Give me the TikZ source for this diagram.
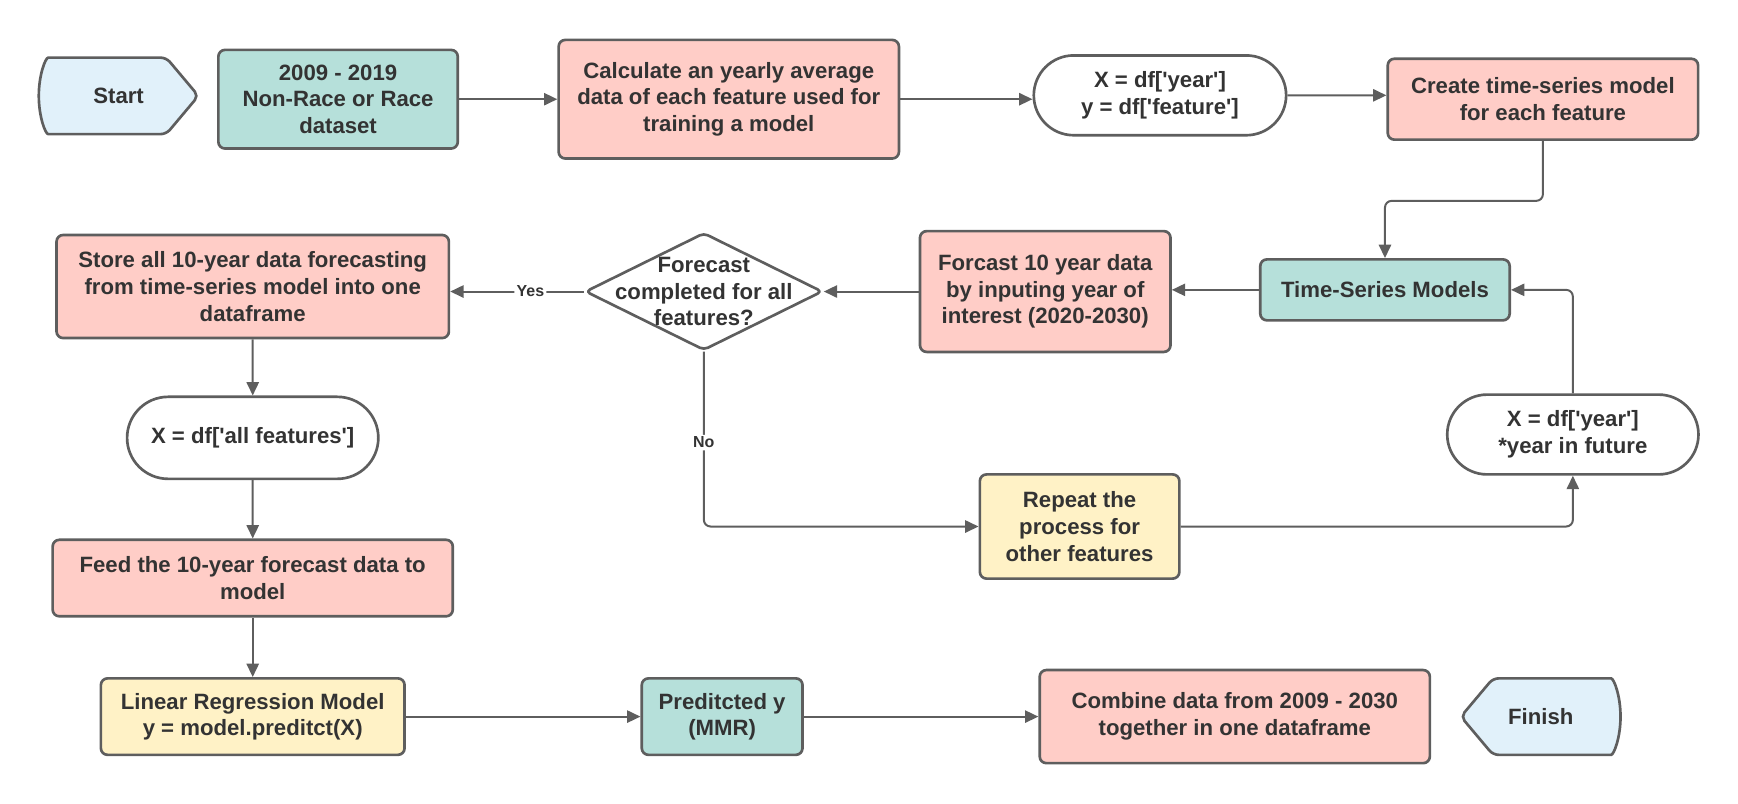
\documentclass[tikz,border=0pt]{standalone}
\usepackage{fontspec}
\setmainfont{Liberation Sans}
\usetikzlibrary{arrows.meta,shapes.geometric,shapes.misc,backgrounds}
\definecolor{edge}{HTML}{5E5E5E}
\definecolor{ink}{HTML}{333333}
\definecolor{sky}{HTML}{E1F1FA}
\definecolor{mint}{HTML}{B6E0DA}
\definecolor{blush}{HTML}{FFCDC7}
\definecolor{cream}{HTML}{FFF2C6}
\newcommand{\apos}{\textquotesingle}

\begin{document}
\begin{tikzpicture}[x=0.5pt, y=-0.5pt, line join=round,
  box/.style={rectangle, rounded corners=3pt, draw=edge, line width=1.2pt, align=center, text=ink, font=\bfseries},
  stadium/.style={rounded rectangle, draw=edge, line width=1.2pt, fill=white, align=center, text=ink, font=\bfseries},
  decision/.style={diamond, aspect=2, draw=edge, line width=1.2pt, rounded corners=2pt, fill=white, align=center, text=ink, font=\bfseries, inner sep=-6pt},
  term/.style={align=center, text=ink, font=\bfseries, minimum width=72pt, minimum height=34.5pt, outer sep=0pt},
  outline/.style={draw=edge, line width=1.2pt, fill=sky, rounded corners=2.5pt},
  link/.style={draw=edge, line width=0.9pt, rounded corners=3pt, -{Triangle[length=6pt,width=5.5pt]}},
  answer/.style={fill=white, text=ink, font=\bfseries\fontsize{7.2}{8}\selectfont, inner sep=1pt}]
\useasboundingbox (0,0) rectangle (1568,724.5);

\node[term] (start) at (107,86.5) {Start};
\node[box, fill=mint, minimum width=108pt, minimum height=44.5pt] (data) at (305,89.5) {2009 - 2019\\Non-Race or Race\\dataset};
\node[box, fill=blush, minimum width=153.5pt, minimum height=53.5pt] (avg) at (657.5,89.5) {Calculate an yearly average\\data of each feature used for\\training a model};
\node[stadium, minimum width=120.5pt, minimum height=36pt] (xy) at (1046.5,86) {X = df[\apos year\apos]\\y = df[\apos feature\apos]};
\node[box, fill=blush, minimum width=140pt, minimum height=36.5pt] (create) at (1392,89.5) {Create time-series model\\for each feature};

\node[box, fill=mint, minimum width=112.5pt, minimum height=27.5pt] (tsm) at (1249.5,261.5) {Time-Series Models};
\node[box, fill=blush, minimum width=113pt, minimum height=54.5pt] (fc10) at (943,263) {Forcast 10 year data\\by inputing year of\\interest (2020-2030)};
\node[decision, minimum width=107pt, minimum height=53pt] (check) at (635,263) {Forecast\\completed for all\\features?};
\node[box, fill=blush, minimum width=177pt, minimum height=46.5pt] (store) at (228,258.5) {Store all 10-year data forecasting\\from time-series model into one\\dataframe};

\node[stadium, minimum width=120pt, minimum height=37pt] (allx) at (228,395) {X = df[\apos all features\apos]};
\node[box, fill=cream, minimum width=90pt, minimum height=47pt] (repeat) at (974,475) {Repeat the\\process for\\other features};
\node[stadium, minimum width=120pt, minimum height=36pt] (futx) at (1419,392) {X = df[\apos year\apos]\\*year in future};

\node[box, fill=blush, minimum width=180.5pt, minimum height=34.5pt] (feed) at (228,521.5) {Feed the 10-year forecast data to\\model};
\node[box, fill=cream, minimum width=137pt, minimum height=34.5pt] (linreg) at (228,646.5) {Linear Regression Model\\y = model.preditct(X)};
\node[box, fill=mint, minimum width=72.5pt, minimum height=34.5pt] (pred) at (651.5,646.5) {Preditcted y\\(MMR)};
\node[box, fill=blush, minimum width=176pt, minimum height=42pt] (combine) at (1114,646.5) {Combine data from 2009 - 2030\\together in one dataframe};
\node[term] (finish) at (1390,646.5) {Finish};

\begin{scope}[on background layer]
\draw[outline] ([xshift=6.75pt]start.north west) arc[start angle=90, end angle=270, x radius=6.75pt, y radius=17.25pt] -- ([xshift=-14.5pt]start.south east) -- (start.east) -- ([xshift=-14.5pt]start.north east) -- cycle;
\draw[outline] ([xshift=-6.75pt]finish.south east) arc[start angle=-90, end angle=90, x radius=6.75pt, y radius=17.25pt] -- ([xshift=14.5pt]finish.north west) -- (finish.west) -- ([xshift=14.5pt]finish.south west) -- cycle;
\end{scope}

\foreach \a/\b in {data/avg, store/allx, allx/feed, feed/linreg, linreg/pred, pred/combine}
{
\draw[link] (\a) -- (\b);
}
\draw[link] (avg) -- (avg -| xy.west);
\draw[link] (xy) -- (xy -| create.west);
\draw[link] (create.south) -- ++(0,54) -| (tsm.north);
\draw[link] (tsm) -- (tsm -| fc10.east);
\draw[link] (fc10) -- (check);
\draw[link] (check) -- node[answer, pos=0.4] {Yes} (check -| store.east);
\draw[link] (check.south) |- node[answer, pos=0.26] {No} (repeat.west);
\draw[link] (repeat.east) -| (futx.south);
\draw[link] (futx.north) |- (tsm.east);
\end{tikzpicture}
\end{document}
